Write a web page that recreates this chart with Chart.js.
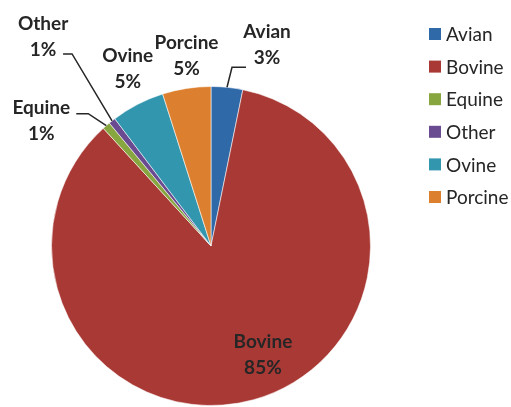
<!DOCTYPE html>
<html>
<head>
<meta charset="utf-8">
<script src="https://cdn.jsdelivr.net/npm/chart.js@4/dist/chart.umd.min.js"></script>
<style>
  html, body { margin: 0; padding: 0; background: #fff; overflow: hidden; }
  #wrap { width: 511px; height: 407px; }
</style>
</head>
<body>
<div id="wrap"><canvas id="pie" width="511" height="407"></canvas></div>
<script>
// share of production by species (percent)
const species = ['Avian', 'Bovine', 'Equine', 'Other', 'Ovine', 'Porcine'];
const shares = [3.2, 85.0, 0.8, 0.7, 5.4, 4.9];
const sliceColors = ['#3069a8', '#a93935', '#88a640', '#6a4a90', '#3196ae', '#dc8030'];

// where each data label sits: inside labels are placed along the slice's middle
// angle at a fraction of the radius, outside ones relative to the rim point.
// leader = [start dx, start dy, horizontal run] relative to the label centre
const labelLayout = [
  { inside: false, dx: 40, dy: -42, leader: [-21, 22, -14] },
  { inside: true, k: 0.75, dx: 20, dy: -6 },
  { inside: false, dx: -65, dy: -5, leader: [35, -7, 12] },
  { inside: false, dx: -69, dy: -84, leader: [20, 17, 9] },
  { inside: false, dx: -10, dy: -35 },
  { inside: false, dx: 0, dy: -33 }
];

const textColor = '#262626';

const dataLabels = {
  id: 'dataLabels',
  afterDatasetsDraw(chart) {
    const ctx = chart.ctx;
    const meta = chart.getDatasetMeta(0);
    const total = shares.reduce((a, b) => a + b, 0);
    ctx.save();
    ctx.font = 'bold 19px Lato';
    ctx.fillStyle = textColor;
    ctx.strokeStyle = textColor;
    ctx.lineWidth = 1.5;
    ctx.textAlign = 'center';
    ctx.textBaseline = 'middle';
    meta.data.forEach((arc, i) => {
      const lay = labelLayout[i];
      const mid = (arc.startAngle + arc.endAngle) / 2;
      const r = lay.inside ? arc.outerRadius * lay.k : arc.outerRadius;
      const px = arc.x + Math.cos(mid) * r;
      const py = arc.y + Math.sin(mid) * r;
      const lx = px + lay.dx;
      const ly = py + lay.dy;
      if (lay.leader) {
        const [sx, sy, run] = lay.leader;
        ctx.beginPath();
        ctx.moveTo(lx + sx, ly + sy);
        ctx.lineTo(lx + sx + run, ly + sy);
        ctx.lineTo(px, py);
        ctx.stroke();
      }
      const pct = Math.round(shares[i] / total * 100) + '%';
      ctx.fillText(species[i], lx, ly - 13);
      ctx.fillText(pct, lx, ly + 13);
    });
    ctx.restore();
  }
};

// legend column on the right
const sideLegend = {
  id: 'sideLegend',
  afterDraw(chart) {
    const ctx = chart.ctx;
    ctx.save();
    ctx.font = '19px Lato';
    ctx.textBaseline = 'middle';
    ctx.textAlign = 'left';
    species.forEach((name, i) => {
      const y = 34 + i * 32.6;
      ctx.fillStyle = sliceColors[i];
      ctx.fillRect(429, y - 6, 12, 12);
      ctx.fillStyle = textColor;
      ctx.fillText(name, 446, y + 1);
    });
    ctx.restore();
  }
};

new Chart(document.getElementById('pie'), {
  type: 'pie',
  data: {
    labels: species,
    datasets: [{
      data: shares,
      backgroundColor: sliceColors,
      borderColor: 'rgba(255,255,255,0.55)',
      borderWidth: 1
    }]
  },
  options: {
    responsive: false,
    animation: false,
    layout: { padding: { top: 86, left: 51, right: 140, bottom: 1 } },
    plugins: {
      legend: { display: false },
      tooltip: { enabled: false }
    }
  },
  plugins: [dataLabels, sideLegend]
});
</script>
</body>
</html>
